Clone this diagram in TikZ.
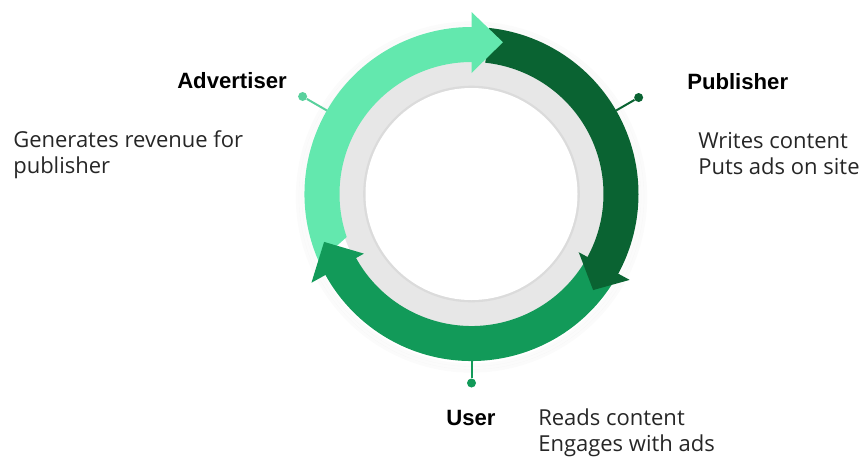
\documentclass[tikz,border=0pt]{standalone}
\usepackage{fontspec}
\setmainfont{Open Sans}
\newfontfamily\headfont{Liberation Sans}

\definecolor{mintgreen}{HTML}{63E8AE}
\definecolor{forestgreen}{HTML}{0A6332}
\definecolor{leafgreen}{HTML}{129A59}
\definecolor{ringgray}{HTML}{E7E7E7}

\begin{document}
\begin{tikzpicture}[x=0.75pt, y=0.75pt,
    headtext/.style={anchor=base west, inner sep=0pt, font=\headfont\bfseries\fontsize{16.6}{19}\selectfont},
    bodytext/.style={anchor=base west, inner sep=0pt, align=left, text=black!85, font=\fontsize{16.5}{18.9}\selectfont},
    pinline/.style={line width=1.5pt},
    pindot/.style={circle, fill=#1, inner sep=0pt, minimum size=6.75pt}]
    \useasboundingbox (0,0) rectangle (863,-458);

    \begin{scope}[shift={(471.5,-194)}]
        % Soft shadow round the ring
        \foreach \r in {168,171,174}
            \draw[black, opacity=0.015, line width=2.5pt] (0,-3) circle[radius=\r];

        % Gray ring behind the arrows
        \fill[ringgray] (0,0) circle[radius=134];
        \draw[black, opacity=0.05, line width=2pt] (0,0) circle[radius=107];
        \fill[white] (0,0) circle[radius=106];

        % Arrow bodies
        \fill[mintgreen] (204:167) arc[start angle=204, end angle=88, radius=167]
            -- (88:132) arc[start angle=88, end angle=199, radius=132] -- cycle;
        \fill[forestgreen] (84:167) arc[start angle=84, end angle=-31, radius=167]
            -- (-31:132) arc[start angle=-31, end angle=84, radius=132] -- cycle;
        \fill[leafgreen] (-32:167) arc[start angle=-32, end angle=-153, radius=167]
            -- (-153:132) arc[start angle=-153, end angle=-32, radius=132] -- cycle;

        % Arrow heads
        \fill[forestgreen] (-28.5:122) -- (-28.5:180) -- (-38.3:155) -- cycle;
        \fill[mintgreen] (90:121) -- (90:182) -- (78.3:155) -- cycle;
        \fill[leafgreen] (-151:123) -- (-151:183) -- (-162:155) -- cycle;

        % Pins
        \coordinate (advring) at (150:167);
        \coordinate (pubring) at (30:167);
        \coordinate (userring) at (-90:167);
        \node[pindot=mintgreen!90!black] (advdot) at (150:195) {};
        \node[pindot=forestgreen] (pubdot) at (30:193) {};
        \node[pindot=leafgreen] (userdot) at (-90:189) {};
        \draw[pinline, mintgreen!90!black] (advring) -- (advdot);
        \draw[pinline, forestgreen] (pubring) -- (pubdot);
        \draw[pinline, leafgreen] (userring) -- (userdot);
    \end{scope}

    % Labels (two-line texts sit on the baseline of their last line)
    \node[headtext] (advtitle) at (177,-88) {Advertiser};
    \node[bodytext] (advtext) at (13,-173) {Generates revenue for\\publisher};
    \node[headtext] (pubtitle) at (687,-89) {Publisher};
    \node[bodytext] (pubtext) at (698,-174) {Writes content\\Puts ads on site};
    \node[headtext] (usertitle) at (446,-425) {User};
    \node[bodytext] (usertext) at (538,-451) {Reads content\\Engages with ads};
\end{tikzpicture}
\end{document}
